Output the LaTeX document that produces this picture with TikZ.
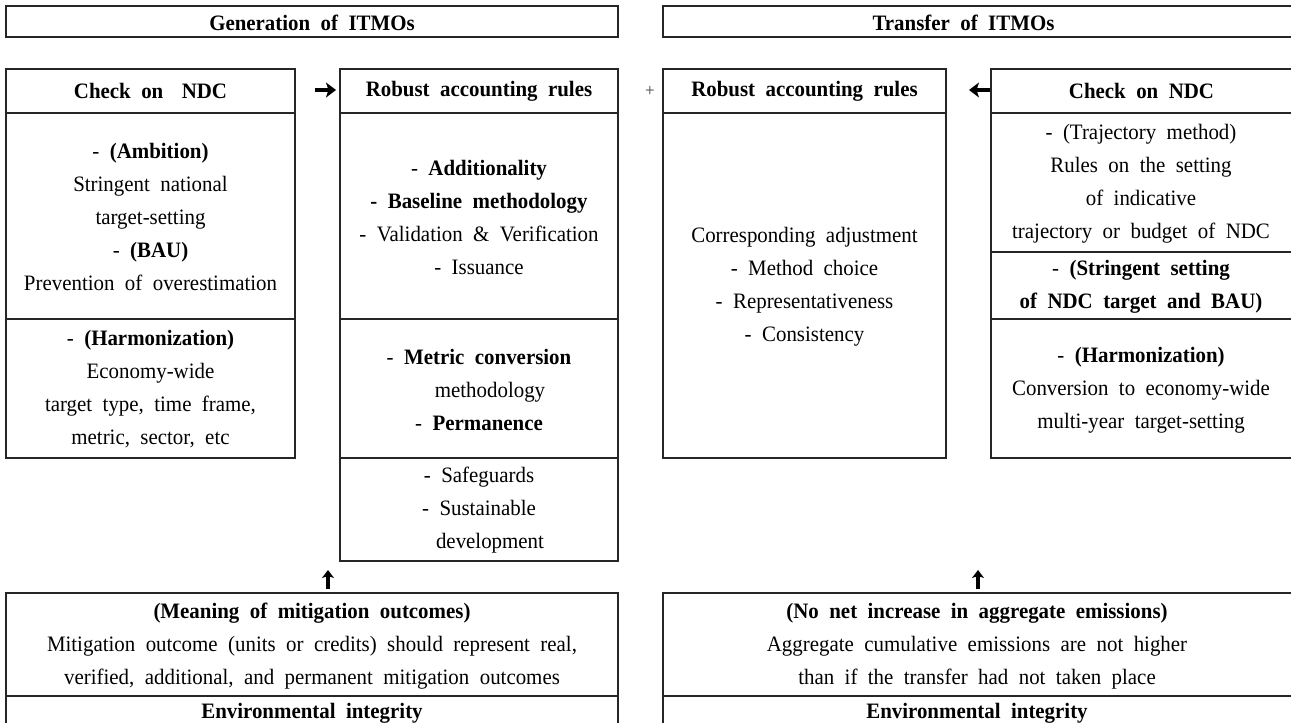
\documentclass[tikz,border=0pt]{standalone}
\usepackage{fontspec}
\setmainfont[WordSpace=2, FakeStretch=0.95]{Liberation Serif}
\usetikzlibrary{arrows.meta}
\begin{document}
\begin{tikzpicture}[x=1pt,y=-1pt,
  box/.style={draw=black!85, line width=1.3pt, anchor=north west, inner sep=0pt, outer sep=0pt},
  txt/.style={align=center, font=\fontsize{22}{33}\selectfont, inner sep=0pt},
  btxt/.style={align=center, font=\fontsize{22}{33}\selectfont\bfseries, inner sep=0pt},
  sym/.style={-{Stealth[length=10pt,width=15pt,inset=2.5pt]}, line width=4.2pt, black},
  symsm/.style={-{Stealth[length=8pt,width=12pt,inset=2pt]}, line width=3.4pt, black}]
\useasboundingbox (0,0) rectangle (1291,723);

% headers
\node[box,minimum width=612pt,minimum height=31pt] (hl) at (6,6) {};
\node[btxt] (hlt) at ([yshift=-1pt]hl.center) {Generation of ITMOs};
\node[box,minimum width=629pt,minimum height=31pt] (hr) at (663,6) {};
\node[btxt] (hrt) at ([xshift=-14pt,yshift=-1pt]hr.center) {Transfer of ITMOs};

% left check on NDC
\node[box,minimum width=289pt,minimum height=44pt] (lch) at (6,69) {};
\node[box,minimum width=289pt,minimum height=206pt] (lca) at (6,113) {};
\node[box,minimum width=289pt,minimum height=139pt] (lcb) at (6,319) {};
\node[btxt] (lcht) at (lch.center) {Check on\hspace{8pt} NDC};
\node[txt] (lcat) at (150.5,217) {- \textbf{(Ambition)}\\Stringent national\\target-setting\\- \textbf{(BAU)}\\Prevention of overestimation};
\node[txt] (lcbt) at (150.5,389.5) {- \textbf{(Harmonization)}\\Economy-wide\\target type, time frame,\\metric, sector, etc};

% left robust accounting rules
\node[box,minimum width=278pt,minimum height=44pt] (lrh) at (340,69) {};
\node[box,minimum width=278pt,minimum height=206pt] (lra) at (340,113) {};
\node[box,minimum width=278pt,minimum height=139pt] (lrb) at (340,319) {};
\node[box,minimum width=278pt,minimum height=103pt] (lrc) at (340,458) {};
\node[btxt] (lrht) at (lrh.center) {Robust accounting rules};
\node[txt] (lrat) at (479,217) {- \textbf{Additionality}\\\textbf{- Baseline methodology}\\- Validation \& Verification\\- Issuance};
\node[txt] (lrbt) at (479,390) {- \textbf{Metric conversion}\\\hspace*{22pt}methodology\\- \textbf{Permanence}};
\node[txt] (lrct) at (479,510.5) {- Safeguards\\- Sustainable\\\hspace*{22pt}development};

% right robust accounting rules
\node[box,minimum width=283pt,minimum height=44pt] (rrh) at (663,69) {};
\node[box,minimum width=283pt,minimum height=345pt] (rra) at (663,113) {};
\node[btxt] (rrht) at (rrh.center) {Robust accounting rules};
\node[txt] (rrat) at (804.5,286.5) {Corresponding adjustment\\- Method choice\\- Representativeness\\- Consistency};

% right check on NDC
\node[box,minimum width=301pt,minimum height=44pt] (rch) at (991,69) {};
\node[box,minimum width=301pt,minimum height=139pt] (rca) at (991,113) {};
\node[box,minimum width=301pt,minimum height=67pt] (rcb) at (991,252) {};
\node[box,minimum width=301pt,minimum height=139pt] (rcc) at (991,319) {};
\node[btxt] (rcht) at (rch.center) {Check on NDC};
\node[txt] (rcat) at (1141,183.5) {- (Trajectory method)\\Rules on the setting\\of indicative\\trajectory or budget of NDC};
\node[btxt] (rcbt) at (1141,287) {\mdseries -\bfseries{} (Stringent setting\\of NDC target and BAU)};
\node[txt] (rcct) at (1141,390) {- \textbf{(Harmonization)}\\Conversion to economy-wide\\multi-year target-setting};

% bottom boxes
\node[box,minimum width=612pt,minimum height=103pt] (bla) at (6,593) {};
\node[box,minimum width=612pt,minimum height=60pt] (blb) at (6,696) {};
\node[txt] (blat) at (312,646.5) {\textbf{(Meaning of mitigation outcomes)}\\Mitigation outcome (units or credits) should represent real,\\verified, additional, and permanent mitigation outcomes};
\node[btxt] (blbt) at (312,713) {Environmental integrity};

\node[box,minimum width=629pt,minimum height=103pt] (bra) at (663,593) {};
\node[box,minimum width=629pt,minimum height=60pt] (brb) at (663,696) {};
\node[txt] (brat) at (977,646.5) {\textbf{(No net increase in aggregate emissions)}\\Aggregate cumulative emissions are not higher\\than if the transfer had not taken place};
\node[btxt] (brbt) at (977,713) {Environmental integrity};

% symbols between boxes
\node[font=\fontsize{18}{18}\selectfont, inner sep=0pt, text=black!75] (plus) at (650,91) {+};
\coordinate (a1s) at (315,90); \coordinate (a1e) at (336,90);
\draw[sym] (a1s) -- (a1e);
\coordinate (a2s) at (990,90); \coordinate (a2e) at (969,90);
\draw[sym] (a2s) -- (a2e);
\coordinate (u1s) at (328,589); \coordinate (u1e) at (328,570);
\draw[symsm] (u1s) -- (u1e);
\coordinate (u2s) at (978,589); \coordinate (u2e) at (978,570);
\draw[symsm] (u2s) -- (u2e);
\end{tikzpicture}
\end{document}
